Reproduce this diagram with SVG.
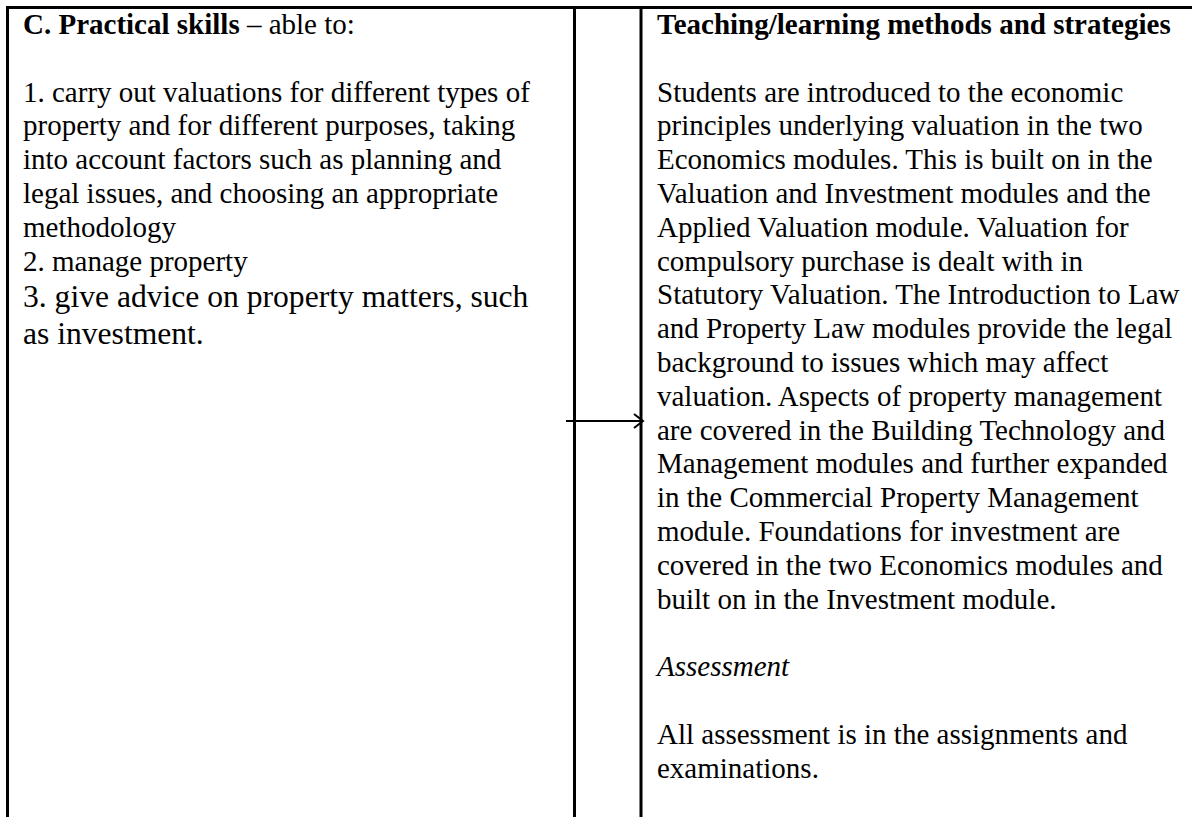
<svg xmlns="http://www.w3.org/2000/svg" width="1202" height="817" viewBox="0 0 1202 817">
  <style>
    .rule { stroke: #000; stroke-width: 3; fill: none; }
    .t { font-family: "Liberation Serif", "Times New Roman", serif; font-size: 29px; fill: #000; }
    .big { font-size: 31.6px; }
    .b { font-weight: bold; }
    .i { font-style: italic; }
    .conn { stroke: #000; stroke-width: 2; fill: none; }
  </style>
  <defs>
    <marker id="arrow" markerUnits="userSpaceOnUse" markerWidth="14" markerHeight="18" refX="11" refY="9" orient="auto">
      <path d="M2,2 L11,9 L2,16" fill="none" stroke="#000" stroke-width="2"/>
    </marker>
  </defs>
  <rect width="1202" height="817" fill="#fff"/>

  <g id="table-rules">
    <line class="rule" x1="6" y1="7.5" x2="1192" y2="7.5"/>
    <line class="rule" x1="7.5" y1="6" x2="7.5" y2="817"/>
    <line class="rule" x1="574.5" y1="6" x2="574.5" y2="817"/>
    <line class="rule" x1="641" y1="6" x2="641" y2="817"/>
  </g>

  <g id="practical-skills">
    <text class="t" x="23" y="34"><tspan class="b">C. Practical skills</tspan> – able to:</text>
    <text class="t" x="23" y="101.6">1. carry out valuations for different types of</text>
    <text class="t" x="23" y="135.4">property and for different purposes, taking</text>
    <text class="t" x="23" y="169.2">into account factors such as planning and</text>
    <text class="t" x="23" y="203">legal issues, and choosing an appropriate</text>
    <text class="t" x="23" y="236.8">methodology</text>
    <text class="t" x="23" y="270.6">2. manage property</text>
    <text class="t big" x="23" y="307">3. give advice on property matters, such</text>
    <text class="t big" x="23" y="344">as investment.</text>
  </g>

  <g id="teaching-methods">
    <text class="t b" x="657" y="34">Teaching/learning methods and strategies</text>
    <text class="t" x="657" y="101.6">Students are introduced to the economic</text>
    <text class="t" x="657" y="135.4">principles underlying valuation in the two</text>
    <text class="t" x="657" y="169.2">Economics modules. This is built on in the</text>
    <text class="t" x="657" y="203">Valuation and Investment modules and the</text>
    <text class="t" x="657" y="236.8">Applied Valuation module. Valuation for</text>
    <text class="t" x="657" y="270.6">compulsory purchase is dealt with in</text>
    <text class="t" x="657" y="304.4">Statutory Valuation. The Introduction to Law</text>
    <text class="t" x="657" y="338.2">and Property Law modules provide the legal</text>
    <text class="t" x="657" y="372">background to issues which may affect</text>
    <text class="t" x="657" y="405.8">valuation. Aspects of property management</text>
    <text class="t" x="657" y="439.6">are covered in the Building Technology and</text>
    <text class="t" x="657" y="473.4">Management modules and further expanded</text>
    <text class="t" x="657" y="507.2">in the Commercial Property Management</text>
    <text class="t" x="657" y="541">module. Foundations for investment are</text>
    <text class="t" x="657" y="574.8">covered in the two Economics modules and</text>
    <text class="t" x="657" y="608.6">built on in the Investment module.</text>
    <text class="t i" x="657" y="676.2">Assessment</text>
    <text class="t" x="657" y="743.8">All assessment is in the assignments and</text>
    <text class="t" x="657" y="777.6">examinations.</text>
  </g>

  <g id="connectors">
    <line class="conn" x1="566" y1="421" x2="643" y2="421" marker-end="url(#arrow)"/>
  </g>
</svg>
